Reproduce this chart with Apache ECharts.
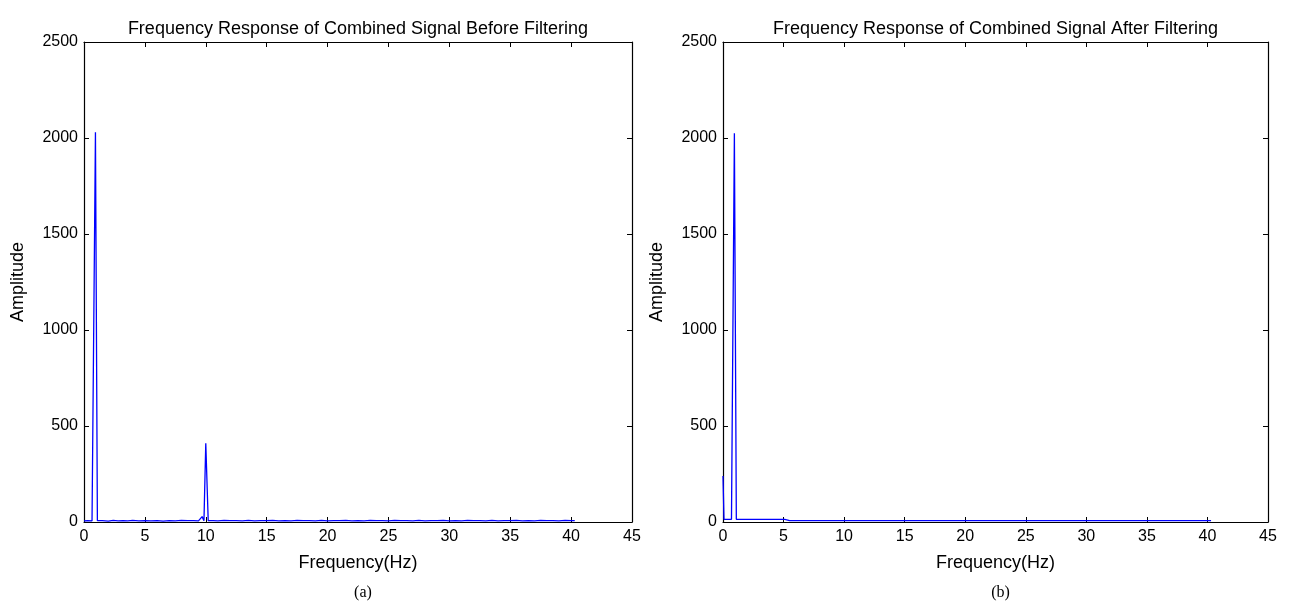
<!DOCTYPE html>
<html><head><meta charset="utf-8">
<script src="https://cdn.jsdelivr.net/npm/echarts@6/dist/echarts.min.js"></script>
<style>html,body{margin:0;padding:0;background:#fff}#c{width:1290px;height:609px}</style>
</head><body><div id="c"></div>
<script>
const titleA = 'Frequency Response of Combined Signal Before Filtering';
const titleB = 'Frequency Response of Combined Signal After Filtering';
const xTicks = [0,5,10,15,20,25,30,35,40,45];
const yTicks = [0,500,1000,1500,2000,2500];
// (a) before filtering: frequency (Hz) and amplitude
const freqA = [0,0.3,0.66,0.94,1.1,1.5,2,2.4,2.8,3.2,3.6,4,4.5,5,5.5,6,6.5,7,7.5,8,8.5,9,9.4,9.7,9.85,10.0,10.2,10.6,11,11.5,12,12.5,13,13.5,14,14.5,15,15.5,16,16.5,17,17.5,18,18.5,19,19.5,20,20.5,21,21.5,22,22.5,23,23.5,24,24.5,25,25.5,26,26.5,27,27.5,28,28.5,29,29.5,30,30.5,31,31.5,32,32.5,33,33.5,34,34.5,35,35.5,36,36.5,37,37.5,38,38.5,39,39.5,40,40.3];
const ampA  = [6,7,6,2030,7,7,5,8,6,7,6,8,6,7,6,7,5,7,6,8,7,7,6,28,7,410,7,7,6,8,7,7,6,8,6,7,7,8,6,7,6,8,7,7,6,8,6,7,7,8,6,7,6,8,7,7,6,8,7,7,6,8,6,7,7,8,6,7,6,8,7,7,6,8,6,7,7,8,6,7,6,8,7,7,6,8,7,7];
// (b) after filtering
const freqB = [0,0.08,0.7,0.94,1.1,5.1,5.5,40.3];
const ampB  = [240,14,14,2025,14,14,7,7];

function pairs(xs, ys){ return xs.map((x,i)=>[x, ys[i]]); }

const FONT = 'Liberation Sans';
const centers = [358, 995.5];
const grids = [
  {left:84, right:1290-632, top:42, bottom:609-522},
  {left:723, right:1290-1268, top:42, bottom:609-522}
];
const xAxes = [], yAxes = [];
grids.forEach((g,i)=>{
  const tick = {show:true, inside:true, length:5, lineStyle:{color:'#000', width:1}};
  xAxes.push({gridIndex:i, type:'value', min:0, max:45, interval:5, position:'bottom',
    name:'Frequency(Hz)', nameLocation:'middle', nameGap:32,
    nameTextStyle:{fontFamily:FONT, fontSize:18, color:'#000'},
    axisLine:{onZero:false, lineStyle:{color:'#000', width:1.2}}, axisTick:tick,
    axisLabel:{fontFamily:FONT, fontSize:16, color:'#000', margin:7,
      formatter:v=>xTicks.includes(v)?String(v):''},
    splitLine:{show:false}});
  xAxes.push({gridIndex:i, type:'value', min:0, max:45, interval:5, position:'top',
    axisLine:{onZero:false, lineStyle:{color:'#000', width:1.2}}, axisTick:tick,
    axisLabel:{show:false}, splitLine:{show:false}});
  yAxes.push({gridIndex:i, type:'value', min:0, max:2500, interval:500, position:'left',
    name:'Amplitude', nameLocation:'middle', nameGap:57,
    nameTextStyle:{fontFamily:FONT, fontSize:18, color:'#000'},
    axisLine:{onZero:false, lineStyle:{color:'#000', width:1.2}}, axisTick:tick,
    axisLabel:{fontFamily:FONT, fontSize:16, color:'#000', margin:6,
      formatter:v=>yTicks.includes(v)?String(v):''},
    splitLine:{show:false}});
  yAxes.push({gridIndex:i, type:'value', min:0, max:2500, interval:500, position:'right',
    axisLine:{onZero:false, lineStyle:{color:'#000', width:1.2}}, axisTick:tick,
    axisLabel:{show:false}, splitLine:{show:false}});
});

const chart = echarts.init(document.getElementById('c'), null, {renderer:'canvas'});
chart.setOption({
  animation:false,
  backgroundColor:'#fff',
  title:[
    {text:titleA, left:centers[0]-5, top:15, textAlign:'center', textStyle:{fontFamily:FONT, fontSize:18, fontWeight:'normal', color:'#000'}},
    {text:titleB, left:centers[1]-5, top:15, textAlign:'center', textStyle:{fontFamily:FONT, fontSize:18, fontWeight:'normal', color:'#000'}},
    {text:'(a)', left:centers[0], top:580, textAlign:'center', textStyle:{fontFamily:'Liberation Serif', fontSize:16, fontWeight:'normal', color:'#000'}},
    {text:'(b)', left:centers[1], top:580, textAlign:'center', textStyle:{fontFamily:'Liberation Serif', fontSize:16, fontWeight:'normal', color:'#000'}}
  ],
  grid:grids,
  xAxis:xAxes,
  yAxis:yAxes,
  series:[
    {type:'line', xAxisIndex:0, yAxisIndex:0, data:pairs(freqA, ampA), showSymbol:false, symbol:'none',
      lineStyle:{color:'#0000ff', width:1.3}, z:5},
    {type:'line', xAxisIndex:2, yAxisIndex:2, data:pairs(freqB, ampB), showSymbol:false, symbol:'none',
      lineStyle:{color:'#0000ff', width:1.3}, z:5}
  ]
});
</script></body></html>
